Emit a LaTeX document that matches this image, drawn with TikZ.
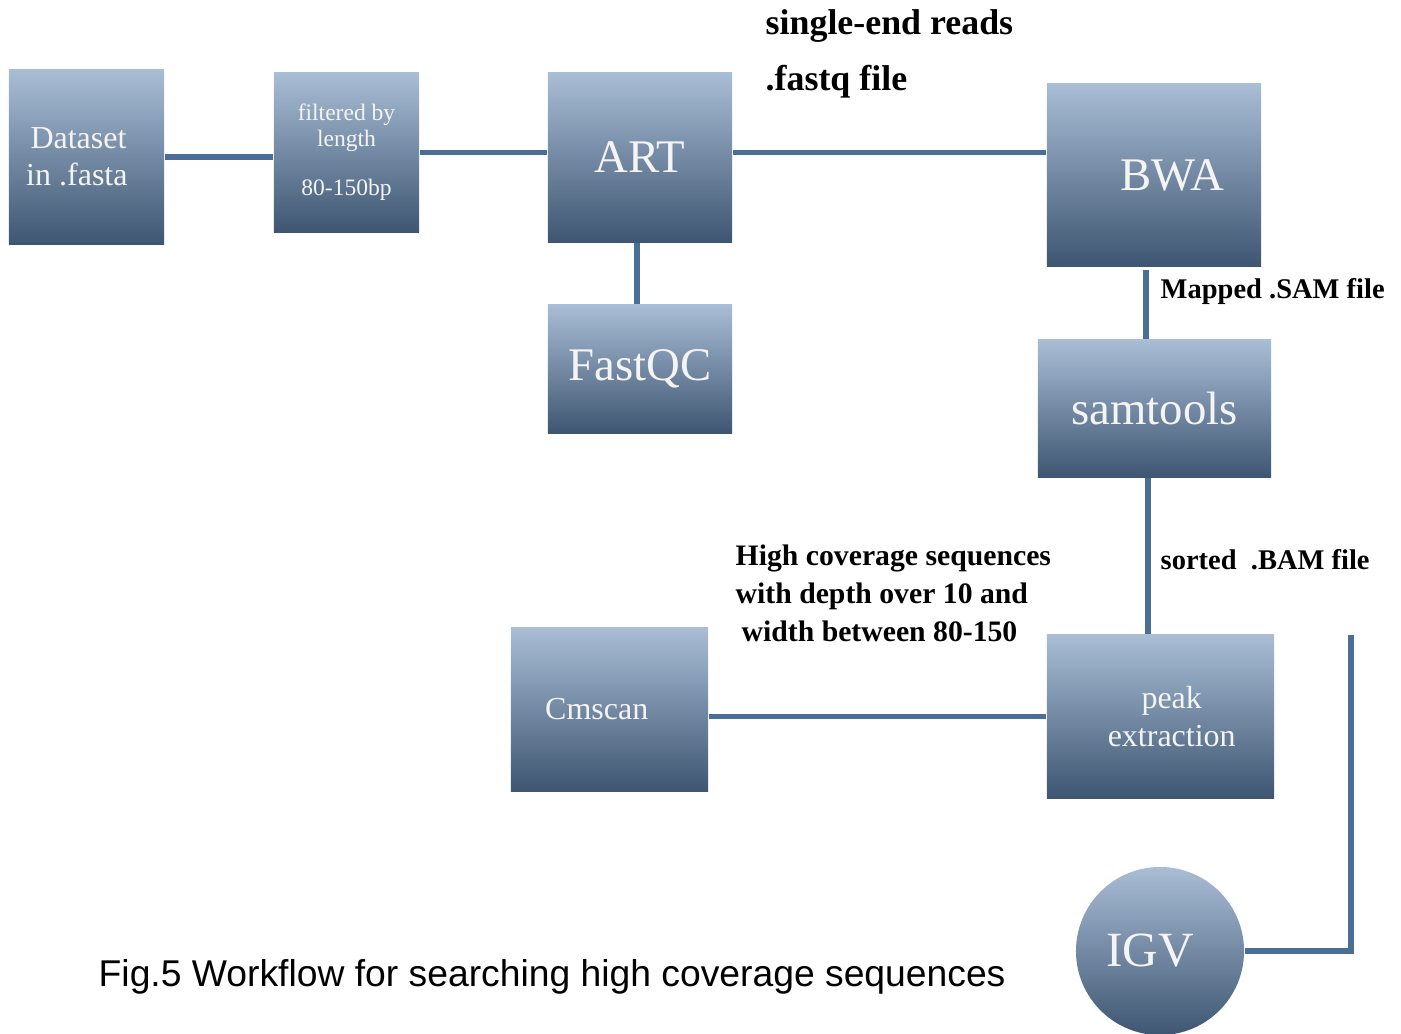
\documentclass[tikz,border=0pt]{standalone}
\usepackage{fontspec}
\setmainfont{Liberation Serif}
\setsansfont{Liberation Sans}
\usepackage{tikz}
\usetikzlibrary{shadings}
\newcommand{\linewd}{1.45pt}
\definecolor{boxtop}{HTML}{A9BDD5}
\definecolor{boxbot}{HTML}{3E5672}
\definecolor{wire}{HTML}{4A6E96}
\definecolor{boxtext}{HTML}{F4F4F4}

\begin{document}
\begin{tikzpicture}[x=.01cm,y=-.01cm,
    tool/.style={rectangle, inner sep=0pt, top color=boxtop, bottom color=boxbot,
      text=boxtext, align=center},
    big/.style={font=\fontsize{13.3}{15}\selectfont},
    small/.style={font=\fontsize{9.1}{10.6}\selectfont},
    note/.style={anchor=west, inner sep=0pt, align=left, font=\bfseries},
    wire/.style={draw=wire, line width=\linewd}]
      \useasboundingbox (0,0) rectangle (1401,1033);
          % top row
      \node (data) at (86.5,157) [tool, small, minimum width=1.55cm, minimum height=1.74cm] {Dataset\hspace*{.5em}\\in .fasta\hspace*{.6em}};
      \node (filt) at (346.5,152.5) [tool, minimum width=1.45cm, minimum height=1.59cm,
        font=\fontsize{6.7}{7.4}\selectfont] {filtered by\\length\\[6.5pt]80-150bp};
      \node (art) at (640,157.5) [tool, big, minimum width=1.84cm, minimum height=1.69cm] {ART};
      \node (fqc) at (640,369) [tool, big, minimum width=1.84cm, minimum height=1.28cm] {FastQC};
      \node (bwa) at (1154,175) [tool, big, minimum width=2.14cm, minimum height=1.82cm] {\hspace*{.8em}BWA};
          % right column
      \node (sam) at (1154.5,408.5) [tool, big, minimum width=2.33cm, minimum height=1.37cm] {samtools};
      \node (peak) at (1160.5,716.5) [tool, small, minimum width=2.27cm, minimum height=1.63cm] {\hspace*{.7em}peak\\\hspace*{.7em}extraction};
      \node (cms) at (609.5,709.5) [tool, small, minimum width=1.97cm, minimum height=1.63cm] {Cmscan\hspace*{.8em}};
      \node (igv) at (1160,951) [tool, circle, minimum size=1.68cm,
        font=\fontsize{14}{16}\selectfont] {IGV\hspace*{.4em}};
      \coordinate (igvtop) at (1351,635);

      \draw[wire] (data.east) to (data.east -| filt.west);
      \draw[wire] (filt.east) to (filt.east -| art.west);
      \draw[wire] (filt.east -| art.east) to (filt.east -| bwa.west);
      \draw[wire] ([xshift=-.03cm]art.south) to ([xshift=-.03cm]fqc.north);
      \draw[wire] ([xshift=-.08cm,yshift=-.03cm]bwa.south) to ([xshift=-.08cm]bwa.south |- sam.north);
      \draw[wire] ([xshift=-.065cm]sam.south) to ([xshift=-.065cm]sam.south |- peak.north);
      \draw[wire] (peak.west) to (peak.west -| cms.east);
      \draw[wire] (igv.east) -| (igvtop);

          % labels
      \node (lreads) at (765,26) [note, font=\bfseries\fontsize{10.2}{12}\selectfont] {single-end reads};
      \node (lfastq) at (765,82) [note, font=\bfseries\fontsize{10.2}{12}\selectfont] {.fastq file};
      \node (lsam) at (1160,291) [note, font=\bfseries\fontsize{8.1}{10}\selectfont] {Mapped .SAM file};
      \node (lbam) at (1160,560) [note, font=\bfseries\fontsize{8.1}{10}\selectfont] {sorted\ \ .BAM file};
      \node (lcov) at (735,593) [note, font=\bfseries\fontsize{8.45}{10.8}\selectfont]
        {High coverage sequences\\with depth over 10 and\\\hspace{1.7pt}width between 80-150};
      \node (caption) at (98,977) [anchor=west, inner sep=0pt,
        font=\sffamily\fontsize{10.6}{12}\selectfont] {Fig.5 Workflow for searching high coverage sequences};
        \end{tikzpicture}
\end{document}
